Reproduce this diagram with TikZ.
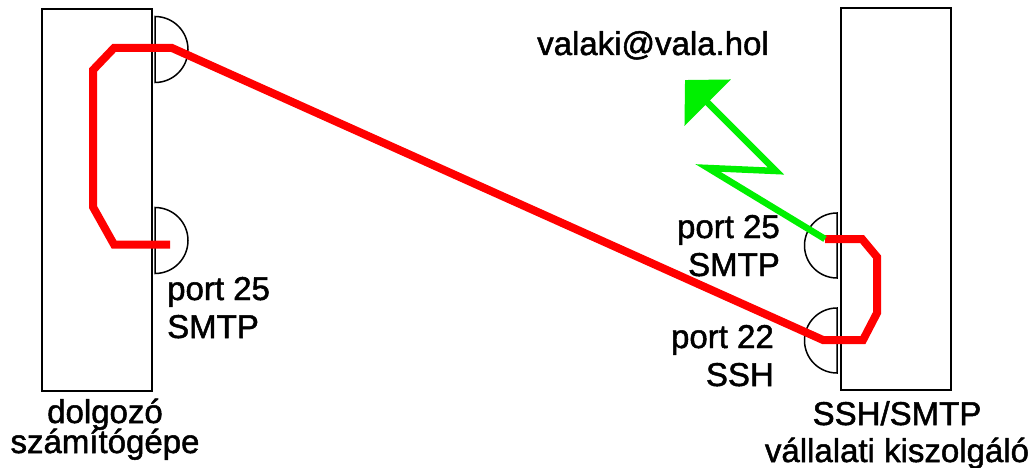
\documentclass[tikz,border=0pt]{standalone}
\usepackage{fontspec}
\setmainfont[FakeBold=1.5]{Liberation Sans}
\usetikzlibrary{arrows.meta}
\definecolor{tunnelred}{RGB}{255,0,0}
\definecolor{mailgreen}{RGB}{0,240,0}
\begin{document}
\begin{tikzpicture}[x=1pt,y=-1pt,
  hostbox/.style={draw, line width=2pt, minimum width=110pt, minimum height=382pt, inner sep=0pt},
  portcap/.style={draw, line width=1.5pt},
  lbltext/.style={font=\fontsize{33}{38}\selectfont, inner sep=0pt},
  tunnel/.style={draw=tunnelred, line width=8pt, line join=miter},
  mail/.style={draw=mailgreen, line width=6.5pt, line join=miter,
    -{Triangle[length=32pt,width=64pt,fill=mailgreen]}}]
  % canvas
  \fill[white] (0,0) rectangle (1034,468);
  \useasboundingbox (0,0) rectangle (1034,468);

  % the two machines
  \node[hostbox] (pc) at (97,200) {};
  \node[hostbox] (srv) at (896,199) {};

  % port sockets on the workstation (bulging right)
  \draw[portcap] (155,16.5) arc[start angle=90, end angle=-90, radius=33pt] -- cycle;
  \draw[portcap] (155,207.5) arc[start angle=90, end angle=-90, radius=33pt] -- cycle;
  % port sockets on the server (bulging left)
  \draw[portcap] (837,213) arc[start angle=90, end angle=270, radius=32.5pt] -- cycle;
  \draw[portcap] (837,308) arc[start angle=90, end angle=270, radius=32.5pt] -- cycle;

  % end points of the tunnel and the mail route
  \coordinate (pcsmtp) at (170,244.5);
  \coordinate (srvsmtp) at (825,239);
  \coordinate (dest) at (685,80);

  % SSH tunnel: local port 25 -> ssh port 22 -> server port 25
  \draw[tunnel] (pcsmtp) -- (114,244.5) -- (93,207) -- (93,70) -- (114,48)
    -- (172,48) -- (823,340) -- (863,340) -- (877,313) -- (877,257)
    -- (862,239) -- (srvsmtp);

  % outgoing mail (lightning arrow)
  \draw[mail] (srvsmtp) -- (708,168) -- (776,171) -- (dest);

  % texts
  \node[lbltext, anchor=base] (addr) at (653,55) {valaki@vala.hol};
  \node[lbltext, anchor=base west] (pcport) at (167,300) {port 25};
  \node[lbltext, anchor=base west] (pcproto) at (167,338) {SMTP};
  \node[lbltext, anchor=base east] (srvport) at (780,238) {port 25};
  \node[lbltext, anchor=base east] (srvproto) at (780,276) {SMTP};
  \node[lbltext, anchor=base east] (sshport) at (774,348) {port 22};
  \node[lbltext, anchor=base east] (sshproto) at (774,386) {SSH};
  \node[lbltext, anchor=base] (pcname) at (105,423) {dolgozó};
  \node[lbltext, anchor=base] (pcname2) at (105,453) {számítógépe};
  \node[lbltext, anchor=base] (srvname) at (897,425) {SSH/SMTP};
  \node[lbltext, anchor=base] (srvname2) at (897,462) {vállalati kiszolgáló};
\end{tikzpicture}
\end{document}
